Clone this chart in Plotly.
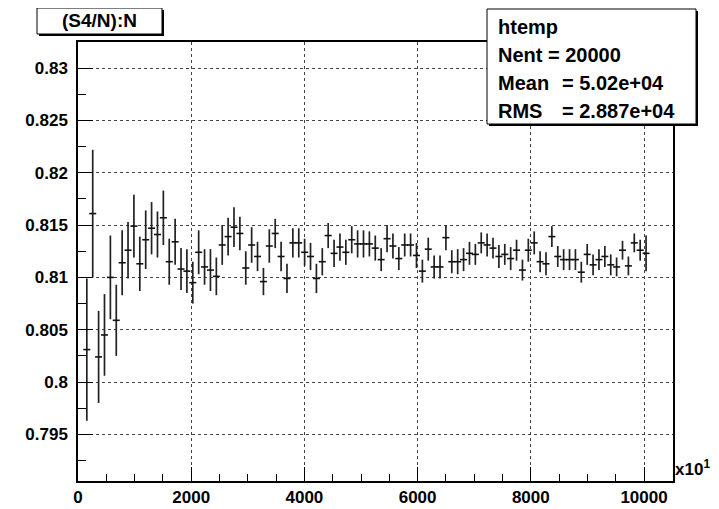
import plotly.graph_objects as go

# ---------------- data ----------------
title_text = "(S4/N):N"
stats_name = "htemp"
stats_nent = "Nent = 20000"
stats_mean_label = "Mean"
stats_mean_value = "= 5.02e+04"
stats_rms_label = "RMS"
stats_rms_value = "= 2.887e+04"

bin_width = 104.0        # displayed units (x10^1)
first_bin = 1            # first filled bin index

profile_mean = [
    0.8031, 0.8161, 0.8024, 0.8045, 0.8100, 0.8059, 0.8114, 0.8126, 0.8149, 0.8113,
    0.8136, 0.8147, 0.8141, 0.8157, 0.8115, 0.8134, 0.8108, 0.8106, 0.8095,
    0.8124, 0.8110, 0.8107, 0.8101, 0.8131, 0.8139, 0.8148, 0.8142, 0.8109, 0.8131,
    0.8120, 0.8096, 0.8130, 0.8142, 0.8120, 0.8099, 0.8133, 0.8133, 0.8124,
    0.8120, 0.8099, 0.8115, 0.8140, 0.8123, 0.8129, 0.8124, 0.8136, 0.8132, 0.8132,
    0.8132, 0.8128, 0.8117, 0.8137, 0.8130, 0.8118, 0.8131, 0.8131, 0.8121, 0.8106,
    0.8127, 0.8110, 0.8110, 0.8138, 0.8115, 0.8115, 0.8117, 0.8123, 0.8122, 0.8133,
    0.8131, 0.8128, 0.8120, 0.8122, 0.8118, 0.8126, 0.8107, 0.8126, 0.8133,
    0.8115, 0.8113, 0.8139, 0.8120, 0.8117, 0.8117, 0.8117, 0.8105, 0.8122, 0.8112,
    0.8117, 0.8120, 0.8112, 0.8110, 0.8126, 0.8111, 0.8133, 0.8126, 0.8123,
]
profile_err = [
    0.0068, 0.0061, 0.0044, 0.0039, 0.0040, 0.0034, 0.0031, 0.0027, 0.0030, 0.0026,
    0.0028, 0.0025, 0.0022, 0.0026, 0.0022, 0.0022, 0.0020, 0.0021, 0.0020,
    0.0021, 0.0017, 0.0020, 0.0018, 0.0019, 0.0018, 0.0019, 0.0016, 0.0016, 0.0017,
    0.0014, 0.0013, 0.0016, 0.0014, 0.0014, 0.0014, 0.0014, 0.0014, 0.0013,
    0.0013, 0.0014, 0.0013, 0.0012, 0.0013, 0.0013, 0.0012, 0.0013, 0.0013, 0.0013,
    0.0012, 0.0012, 0.0011, 0.0013, 0.0012, 0.0011, 0.0011, 0.0011, 0.0012, 0.0011,
    0.0011, 0.0011, 0.0011, 0.0012, 0.0011, 0.0012, 0.0011, 0.0011, 0.0010, 0.0010,
    0.0011, 0.0010, 0.0011, 0.0010, 0.0011, 0.0010, 0.0010, 0.0011, 0.0011,
    0.0010, 0.0011, 0.0010, 0.0010, 0.0010, 0.0010, 0.0010, 0.0010, 0.0010, 0.0010,
    0.0010, 0.0010, 0.0010, 0.0009, 0.0009, 0.0009, 0.0009, 0.0010, 0.0017,
]

x_tick_vals = [0, 2000, 4000, 6000, 8000, 10000]
x_tick_text = ["0", "2000", "4000", "6000", "8000", "10000"]
y_tick_vals = [0.795, 0.8, 0.805, 0.81, 0.815, 0.82, 0.825, 0.83]
y_tick_text = ["0.795", "0.8", "0.805", "0.81", "0.815", "0.82", "0.825", "0.83"]

# ---------------- geometry (page pixels; page has an 8px body margin) ----------------
PAGE_W, PAGE_H = 719, 509
OFF = 8
W, H = PAGE_W - OFF, PAGE_H - OFF
L, R, T, B = 78, 673, 42, 481          # frame in page pixels
FONT = "Liberation Sans, Arial, Helvetica, sans-serif"


def px(x):
    return (x - L) / (R - L)


def py(y):
    return (B - y) / (B - T)


bin_centers = [(first_bin + i + 0.5) * bin_width for i in range(len(profile_mean))]

fig = go.Figure()
fig.add_trace(go.Scatter(
    x=bin_centers, y=profile_mean, mode="markers",
    marker=dict(symbol="line-ew", size=5, color="#111",
                line=dict(width=1.6, color="#111")),
    error_y=dict(type="data", array=profile_err, visible=True,
                 thickness=1.7, width=0, color="#222"),
    showlegend=False, hoverinfo="skip", cliponaxis=False,
))

axis_common = dict(
    showline=True, linecolor="black", linewidth=1.5, mirror=True,
    ticks="inside", tickcolor="black", tickwidth=1.2,
    showgrid=True, gridcolor="#444", gridwidth=1, griddash="dot",
    zeroline=False, automargin=False,
    tickfont=dict(family=FONT, size=17, color="black", weight="bold"),
)

fig.update_layout(
    template="none",
    width=W, height=H,
    margin=dict(l=L - OFF, r=W - (R - OFF), t=T - OFF, b=H - (B - OFF), pad=0, autoexpand=False),
    paper_bgcolor="white", plot_bgcolor="white",
    xaxis=dict(range=[0, 10512], tickmode="array", tickvals=x_tick_vals,
               ticktext=x_tick_text, ticklen=14, ticklabelstandoff=0,
               minor=dict(dtick=500, tick0=0, ticks="inside", ticklen=7,
                          tickcolor="black", showgrid=False),
               **axis_common),
    yaxis=dict(range=[0.79054, 0.8325], tickmode="array", tickvals=y_tick_vals,
               ticktext=y_tick_text, ticklen=15, ticklabelstandoff=5,
               minor=dict(dtick=0.0025, tick0=0.795, ticks="inside", ticklen=8,
                          tickcolor="black", showgrid=False),
               **axis_common),
)

shapes = []
annotations = []


def box_with_shadow(x0, y0, x1, y1, off=2):
    shapes.append(dict(type="rect", xref="paper", yref="paper",
                       x0=px(x0 + off), x1=px(x1 + off), y0=py(y1 + off), y1=py(y0 + off),
                       fillcolor="black", line=dict(width=0), layer="above"))
    shapes.append(dict(type="rect", xref="paper", yref="paper",
                       x0=px(x0), x1=px(x1), y0=py(y1), y1=py(y0),
                       fillcolor="white", line=dict(width=1, color="black"), layer="above"))


box_with_shadow(37, 8, 162, 34)
box_with_shadow(487, 9, 696, 124)


def text(x, y, s, size, xanchor="left"):
    annotations.append(dict(xref="paper", yref="paper", x=px(x), y=py(y), text=s,
                            showarrow=False, xanchor=xanchor, yanchor="middle",
                            borderpad=0,
                            font=dict(family=FONT, size=size, color="black", weight="bold")))


text(99, 21, title_text, 19, "center")
text(497, 27, stats_name, 20)
text(497, 55, stats_nent, 20)
text(497, 83, stats_mean_label, 20)
text(561, 83, stats_mean_value, 20)
text(497, 111, stats_rms_label, 20)
text(561, 111, stats_rms_value, 20)
text(674, 468, "x10<sup>1</sup>", 17)

fig.update_layout(shapes=shapes, annotations=annotations)

fig.write_html("out.html")
